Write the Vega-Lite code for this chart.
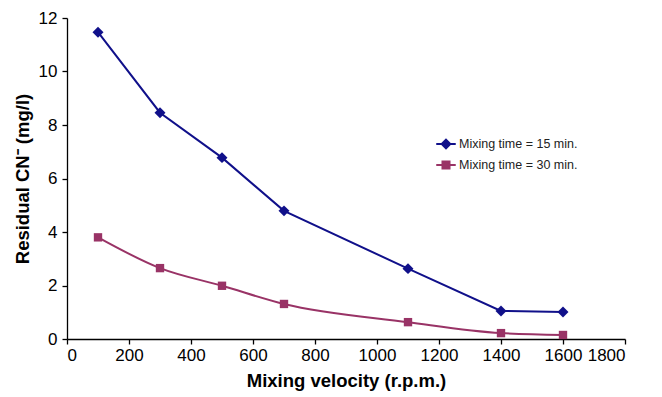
{
  "$schema": "https://vega.github.io/schema/vega-lite/v6.json",
  "autosize": "none",
  "width": 558,
  "height": 321,
  "padding": {"left": 67, "top": 18, "right": 37, "bottom": 58},
  "background": "white",
  "config": {
    "font": "Liberation Sans",
    "view": {"stroke": null},
    "axis": {
      "grid": false,
      "domainColor": "black",
      "tickColor": "black",
      "labelColor": "black",
      "titleColor": "black",
      "labelFont": "Liberation Sans",
      "titleFont": "Liberation Sans",
      "labelFontSize": 17,
      "titleFontSize": 18.5,
      "titleFontWeight": "bold",
      "tickSize": 5,
      "domainWidth": 1.3,
      "tickWidth": 1.3
    }
  },
  "data": {
    "values": [
      {"v": 100, "cn": 11.47, "series": "Mixing time = 15 min."},
      {"v": 300, "cn": 8.46, "series": "Mixing time = 15 min."},
      {"v": 500, "cn": 6.78, "series": "Mixing time = 15 min."},
      {"v": 700, "cn": 4.79, "series": "Mixing time = 15 min."},
      {"v": 1100, "cn": 2.63, "series": "Mixing time = 15 min."},
      {"v": 1400, "cn": 1.05, "series": "Mixing time = 15 min."},
      {"v": 1600, "cn": 1.01, "series": "Mixing time = 15 min."},
      {"v": 100, "cn": 3.8, "series": "Mixing time = 30 min."},
      {"v": 300, "cn": 2.65, "series": "Mixing time = 30 min."},
      {"v": 500, "cn": 1.99, "series": "Mixing time = 30 min."},
      {"v": 700, "cn": 1.31, "series": "Mixing time = 30 min."},
      {"v": 1100, "cn": 0.63, "series": "Mixing time = 30 min."},
      {"v": 1400, "cn": 0.22, "series": "Mixing time = 30 min."},
      {"v": 1600, "cn": 0.15, "series": "Mixing time = 30 min."}
    ]
  },
  "encoding": {
    "x": {
      "field": "v", "type": "quantitative",
      "scale": {"domain": [0, 1800], "nice": false},
      "axis": {"values": [0, 200, 400, 600, 800, 1000, 1200, 1400, 1600, 1800], "format": "d", "title": "Mixing velocity (r.p.m.)", "labelPadding": 3, "titlePadding": 8}
    },
    "y": {
      "field": "cn", "type": "quantitative",
      "scale": {"domain": [0, 12], "nice": false},
      "axis": {"values": [0, 2, 4, 6, 8, 10, 12], "format": "d", "title": "Residual CN⁻ (mg/l)", "labelPadding": 5, "titlePadding": 6}
    },
    "color": {
      "field": "series", "type": "nominal",
      "scale": {"domain": ["Mixing time = 15 min.", "Mixing time = 30 min."], "range": ["#10108a", "#993366"]},
      "legend": {
        "title": null, "orient": "none", "legendX": 368, "legendY": 115,
        "labelFontSize": 12.5, "labelColor": "#222", "symbolSize": 380, "rowPadding": 1, "labelOffset": 2,
        "symbolStrokeWidth": 2,
        "encode": {
          "symbols": {
            "update": {
              "shape": {"signal": "datum.value == 'Mixing time = 15 min.' ? 'M-1,0H-0.4M0.4,0H1M0,-0.44L0.44,0L0,0.44L-0.44,0Z' : 'M-1,0H-0.36M0.36,0H1M-0.36,-0.36H0.36V0.36H-0.36Z'"},
              "strokeWidth": {"value": 2},
              "size": {"value": 380}
            }
          }
        }
      }
    }
  },
  "layer": [
    {
      "transform": [{"filter": "datum.series == 'Mixing time = 15 min.'"}],
      "mark": {"type": "line", "strokeWidth": 2}
    },
    {
      "transform": [{"filter": "datum.series == 'Mixing time = 30 min.'"}],
      "mark": {"type": "line", "strokeWidth": 2, "interpolate": "monotone"}
    },
    {
      "transform": [{"filter": "datum.series == 'Mixing time = 15 min.'"}],
      "mark": {"type": "point", "filled": true, "opacity": 1, "shape": "diamond", "size": 120}
    },
    {
      "transform": [{"filter": "datum.series == 'Mixing time = 30 min.'"}],
      "mark": {"type": "point", "filled": true, "opacity": 1, "shape": "square", "size": 70}
    }
  ]
}
